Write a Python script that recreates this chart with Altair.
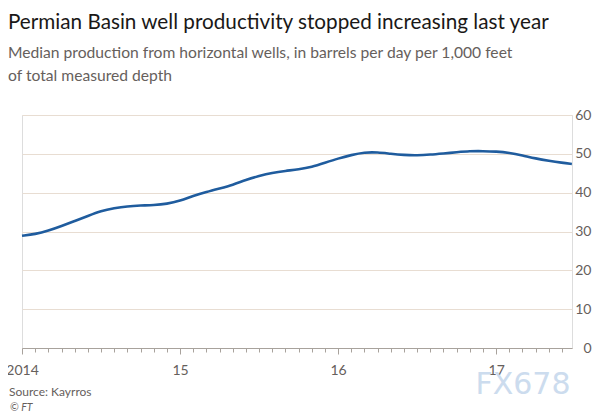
import altair as alt
import pandas as pd

# Monthly index from Jan 2014 (0) to mid-2017
month_index = [0, 1, 2, 3, 4, 5, 6, 7, 8, 9, 10, 11,
               12, 13, 14, 15, 16, 17, 18, 19, 20, 21, 22, 23,
               24, 25, 26, 27, 28, 29, 30, 31, 32, 33, 34, 35,
               36, 37, 38, 39, 40, 41, 41.75]
productivity = [28.9, 29.3, 30.2, 31.4, 32.7, 34.0, 35.3, 36.0, 36.5, 36.7, 36.8, 37.1,
                37.9, 39.2, 40.2, 41.1, 42.0, 43.3, 44.3, 45.1, 45.6, 46.0, 46.6, 47.7,
                48.8, 49.7, 50.4, 50.4, 50.0, 49.7, 49.6, 49.8, 50.1, 50.4, 50.7, 50.7,
                50.6, 50.3, 49.6, 48.8, 48.2, 47.7, 47.4]
y_ticks = [0, 10, 20, 30, 40, 50, 60]
x_start, x_end = 2014.0, 2017.48

df = pd.DataFrame({"year": [2014 + m / 12 for m in month_index], "value": productivity})
month_ticks = [2014 + m / 12 for m in range(0, 42)]

FONT = "Lato"
GREY = "#66605c"

line = alt.Chart(df).mark_line(color="#1f5c9e", strokeWidth=2.6, interpolate="basis").encode(
    x=alt.X("year:Q",
            scale=alt.Scale(domain=[x_start, x_end], nice=False, zero=False),
            axis=alt.Axis(values=month_ticks, title=None, grid=False,
                          labelExpr="datum.value % 1 === 0 ? (datum.value == 2014 ? '2014' : format(datum.value % 100, '02d')) : ''",
                          labelFlush=False, labelOverlap=False, labelBound=False,
                          tickSize={"condition": {"test": "datum.value % 1 === 0", "value": 6}, "value": 4},
                          tickColor="#a8a29c", domainColor="#a8a29c", labelColor=GREY,
                          labelFont=FONT, labelFontSize=14, labelPadding=9)),
    y=alt.Y("value:Q",
            scale=alt.Scale(domain=[0, 60], nice=False),
            axis=alt.Axis(orient="right", values=y_ticks, title=None, domain=False, ticks=False,
                          grid=True, gridColor="#e8ddd2", labelAlign="right", labelPadding=19,
                          labelBaseline="middle", labelColor=GREY, labelFont=FONT, labelFontSize=14)),
)

notes = pd.DataFrame({"t": ["Source: Kayrros"]})
source = alt.Chart(notes).mark_text(align="left", baseline="middle", font=FONT, fontSize=12,
                                    color=GREY).encode(text="t:N", x=alt.value(-13), y=alt.value(277))
ft = alt.Chart(pd.DataFrame({"t": ["© FT"]})).mark_text(align="left", baseline="middle", font=FONT,
                                                        fontSize=10.5, fontStyle="italic",
                                                        color=GREY).encode(text="t:N", x=alt.value(-12), y=alt.value(293))
wm = alt.Chart(pd.DataFrame({"t": ["FX678"]})).mark_text(align="center", baseline="middle",
                                                         font="DejaVu Sans", fontSize=30,
                                                         color="#c4d6ec", opacity=0.85).encode(
    text="t:N", x=alt.value(501), y=alt.value(270))

chart = alt.layer(line, source, ft, wm).properties(
    width=550, height=233,
    autosize=alt.AutoSizeParams(type="none"),
    padding={"left": 14, "top": 107, "right": 20, "bottom": 64},
    title=alt.Title(
        "Permian Basin well productivity stopped increasing last year",
        subtitle=["Median production from horizontal wells, in barrels per day per 1,000 feet",
                  "of total measured depth"],
        anchor="start", frame="group", dx=-14, offset=23.5,
        font=FONT, fontSize=20.7, fontWeight="normal", color="#1a1817",
        subtitleFont=FONT, subtitleFontSize=15.65, subtitleColor=GREY, subtitleLineHeight=23,
        subtitlePadding=12.5,
    ),
).configure_view(stroke=None).configure(background="white")

chart.save("out.html", embed_options={"renderer": "svg", "actions": False})
